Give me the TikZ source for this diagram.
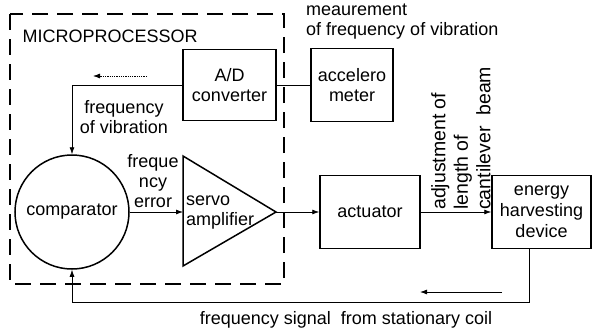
\documentclass[tikz,border=0pt]{standalone}
\usepackage{fontspec}
\setmainfont{Liberation Sans}
\usetikzlibrary{arrows.meta}

\begin{document}
\begin{tikzpicture}[x=1pt,y=-1pt,
	font=\fontsize{18}{20}\selectfont,
	blok/.style={draw, line width=1.5, align=center, inner sep=0},
	lijn/.style={line width=0.8},
	pijl/.style={lijn, -{Latex[length=7pt,width=5pt]}}]
					\useasboundingbox (0,0) rectangle (593,332);
					
					\def\yM{212}
					\def\yT{85}
					\def\yB{302}
					
					% microprocessor frame
					\draw[line width=2.5, dash pattern=on 16pt off 9pt] (10,14) rectangle (284,284);
					\node[anchor=west] (mp) at (19,36) {MICROPROCESSOR};
					
					\node[blok, minimum width=93, minimum height=71] (ad) at (229.5,\yT) {A/D\\converter};
					\node[blok, minimum width=82, minimum height=73] (acc) at (352,\yT) {accelero\\meter};
					\node[blok, circle, minimum size=114] (cmp) at (72,\yM) {comparator};
					\node[blok, minimum width=100, minimum height=73] (act) at (370,\yM) {actuator};
					\node[blok, minimum width=99, minimum height=73, font=\fontsize{18}{21}\selectfont] (ehd) at (541.5,\yM) {energy\\harvesting\\device};
					
					% servo amplifier
					\coordinate (ampin) at (183,\yM);
					\coordinate (ampout) at (276,\yM);
					\draw[line width=1.5, line join=miter] (183,156) -- (183,266) -- (ampout) -- cycle;
					\node[align=left, anchor=west, inner sep=0] (amp) at (186,213) {servo\\amplifier};
					
					% connections
					\draw[lijn] (acc.west) -- (ad.east);
					\draw[pijl] (ad.west) -| (cmp.north);
					\draw[pijl] (cmp.east) -- (ampin);
					\draw[pijl] (ampout) -- (act.west);
					\draw[pijl] (act.east) -- (ehd.west);
					\coordinate (fb) at (529,\yB);
					\draw[pijl] (fb |- ehd.south) -- (fb) -| (cmp.south);
					
					% direction arrows
					\coordinate (d1) at (147,76);
					\coordinate (d2) at (93,76);
					\draw[pijl, densely dotted] (d1) -- (d2);
					\coordinate (d3) at (502,292);
					\coordinate (d4) at (420,292);
					\draw[pijl] (d3) -- (d4);
					
					% labels
					\node[align=left, anchor=west, inner sep=0] (mea) at (306,22) {meaurement\\of frequency of vibration};
					\node[align=center, inner sep=0] (fov) at (124,117) {frequency\\of vibration};
					\node[align=center, inner sep=0] (fe) at (153,181) {freque\\ncy\\error};
					\node[align=left, anchor=west, rotate=90, inner sep=0, font=\fontsize{19.5}{22.5}\selectfont] (adj) at (461,210) {adjustment of\\length of\\cantilever\ \ beam};
					\node (fs) at (346,320) {frequency signal\ \ from stationary coil};
				\end{tikzpicture}
\end{document}
